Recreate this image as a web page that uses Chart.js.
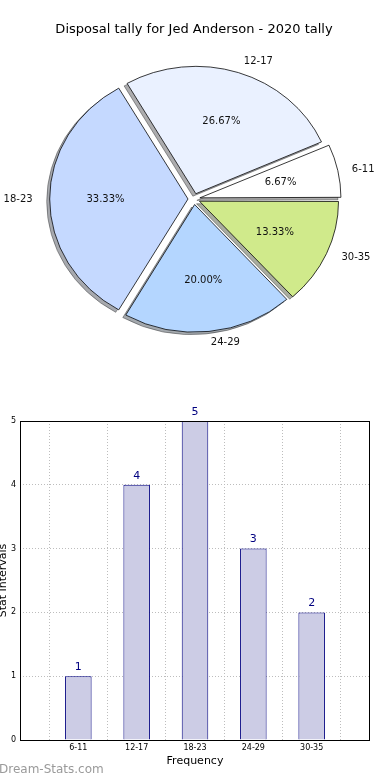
<!DOCTYPE html>
<html>
<head>
<meta charset="utf-8">
<script src="https://cdn.jsdelivr.net/npm/chart.js@4"></script>
<style>
  body { margin: 0; background: #fff; }
  .box { position: absolute; left: 0; width: 390px; }
</style>
</head>
<body>
<div class="box" style="top:0;height:360px"><canvas id="pie-chart"></canvas></div>
<div class="box" style="top:400px;height:380px"><canvas id="bar-chart"></canvas></div>
<script>
// data
const categories = ['6-11', '12-17', '18-23', '24-29', '30-35'];
const tally = [1, 4, 5, 3, 2];
const sliceColors = ['#ffffff', '#eaf1ff', '#c5d9ff', '#b4d6ff', '#d0ea8b'];
const yTicks = [0, 1, 2, 3, 4, 5];

const FONT = 'DejaVu Sans';
const total = tally.reduce((a, b) => a + b, 0);
const squash = 0.926; // pie is drawn as an ellipse in the source

// pie goes counter-clockwise from east, chart.js goes clockwise -> reverse
const pieLabels = categories.slice().reverse();
const pieData = tally.slice().reverse();
const pieColors = sliceColors.slice().reverse();

function squashCtx(ctx, arc) {
  ctx.translate(arc.x, arc.y);
  ctx.scale(1, squash);
  ctx.translate(-arc.x, -arc.y);
}

const pieDecor = {
  id: 'pieDecor',
  beforeDatasetsDraw(chart) {
    const ctx = chart.ctx;
    const arcs = chart.getDatasetMeta(0).data;
    // shadow under every wedge
    ctx.save();
    ctx.translate(-3, 2.5);
    squashCtx(ctx, arcs[0]);
    ctx.filter = 'brightness(0.3)';
    ctx.globalAlpha = 0.45;
    arcs.forEach(a => a.draw(ctx));
    ctx.restore();
    // squash the real wedges too
    ctx.save();
    squashCtx(ctx, arcs[0]);
  },
  afterDatasetsDraw(chart) {
    const ctx = chart.ctx;
    ctx.restore();
    const arcs = chart.getDatasetMeta(0).data;
    ctx.save();
    ctx.fillStyle = '#111';
    ctx.font = '10px "' + FONT + '"';
    ctx.textBaseline = 'middle';
    arcs.forEach((a, i) => {
      const mid = (a.startAngle + a.endAngle) / 2;
      const off = (a.options.offset || 0) / 4; // same shift the arc uses
      const dx = Math.cos(mid), dy = Math.sin(mid);
      const at = (kx, ky) => [
        a.x + (off + a.outerRadius * kx) * dx,
        a.y + (off + a.outerRadius * ky) * dy * squash
      ];
      const [px, py] = at(0.6, 0.6);
      ctx.textAlign = 'center';
      ctx.fillText((pieData[i] / total * 100).toFixed(2) + '%', px, py);
      const [lx, ly] = at(1.13, 1.09);
      ctx.textAlign = dx > 0 ? 'left' : 'right';
      ctx.fillText(pieLabels[i], lx, ly);
    });
    ctx.restore();
  }
};

new Chart(document.getElementById('pie-chart').getContext('2d'), {
  type: 'pie',
  data: {
    labels: pieLabels,
    datasets: [{
      data: pieData,
      backgroundColor: pieColors,
      borderColor: '#000',
      borderWidth: 0.8,
      offset: 24,
      hoverOffset: 24,
      radius: 137.5,
      clip: false
    }]
  },
  options: {
    responsive: true,
    maintainAspectRatio: false,
    animation: false,
    rotation: 90,
    layout: { padding: { left: 0, right: 2, top: 0, bottom: 22 } },
    plugins: {
      legend: { display: false },
      tooltip: { enabled: false },
      title: {
        display: true,
        text: 'Disposal tally for Jed Anderson - 2020 tally',
        color: '#000',
        font: { family: FONT, size: 13, weight: 'normal' },
        padding: { top: 22, bottom: 22.4 }
      }
    }
  },
  plugins: [pieDecor]
});

// bar chart: empty slots at both ends give the 0..6 x range
const barLabels = [''].concat(categories, ['']);
const barData = [null].concat(tally, [null]);

const barDecor = {
  id: 'barDecor',
  afterDatasetsDraw(chart) {
    const ctx = chart.ctx;
    ctx.save();
    ctx.fillStyle = '#000080';
    ctx.font = '11px "' + FONT + '"';
    ctx.textAlign = 'center';
    ctx.textBaseline = 'middle';
    chart.getDatasetMeta(0).data.forEach((bar, i) => {
      if (barData[i] == null) return;
      ctx.fillText(String(barData[i]), bar.x, bar.y - 9);
    });
    ctx.restore();
  },
  afterDraw(chart) {
    const ctx = chart.ctx;
    const a = chart.chartArea;
    ctx.save();
    ctx.strokeStyle = '#000';
    ctx.lineWidth = 1;
    ctx.strokeRect(Math.round(a.left) + 0.5, Math.round(a.top) + 0.5,
      Math.round(a.right - a.left) - 1, Math.round(a.bottom - a.top));
    ctx.fillStyle = '#9a9a9a';
    ctx.font = '12px "' + FONT + '"';
    ctx.textBaseline = 'middle';
    ctx.textAlign = 'left';
    ctx.fillText('Dream-Stats.com', -1, 370);
    ctx.restore();
  }
};

new Chart(document.getElementById('bar-chart').getContext('2d'), {
  type: 'bar',
  data: {
    labels: barLabels,
    datasets: [{
      data: barData,
      backgroundColor: '#cccce5',
      borderColor: '#000080',
      borderWidth: 1,
      barPercentage: 0.455,
      categoryPercentage: 1
    }]
  },
  options: {
    responsive: true,
    maintainAspectRatio: false,
    animation: false,
    layout: { padding: { left: 0, right: 20, top: 21, bottom: 0 } },
    plugins: { legend: { display: false }, tooltip: { enabled: false } },
    scales: {
      x: {
        offset: false,
        afterFit: s => { s.height = 40; },
        grid: { color: '#bdbdbd', drawTicks: false },
        border: { display: false, dash: [1, 2] },
        ticks: { color: '#000', font: { family: FONT, size: 8 }, padding: 3, maxRotation: 0, autoSkip: false },
        title: { display: true, text: 'Frequency', color: '#000', font: { family: FONT, size: 11 }, padding: { top: 0, bottom: 12 } }
      },
      y: {
        min: yTicks[0],
        max: yTicks[yTicks.length - 1],
        afterFit: s => { s.width = 20; },
        afterBuildTicks: s => { s.ticks = yTicks.map(v => ({ value: v })); },
        grid: { color: '#bdbdbd', drawTicks: false },
        border: { display: false, dash: [1, 2] },
        ticks: { color: '#000', font: { family: FONT, size: 8 }, padding: 4 },
        title: { display: true, text: 'Stat Intervals', color: '#000', font: { family: FONT, size: 11 }, padding: { top: -3.5, bottom: 0 } }
      }
    }
  },
  plugins: [barDecor]
});
</script>
</body>
</html>
